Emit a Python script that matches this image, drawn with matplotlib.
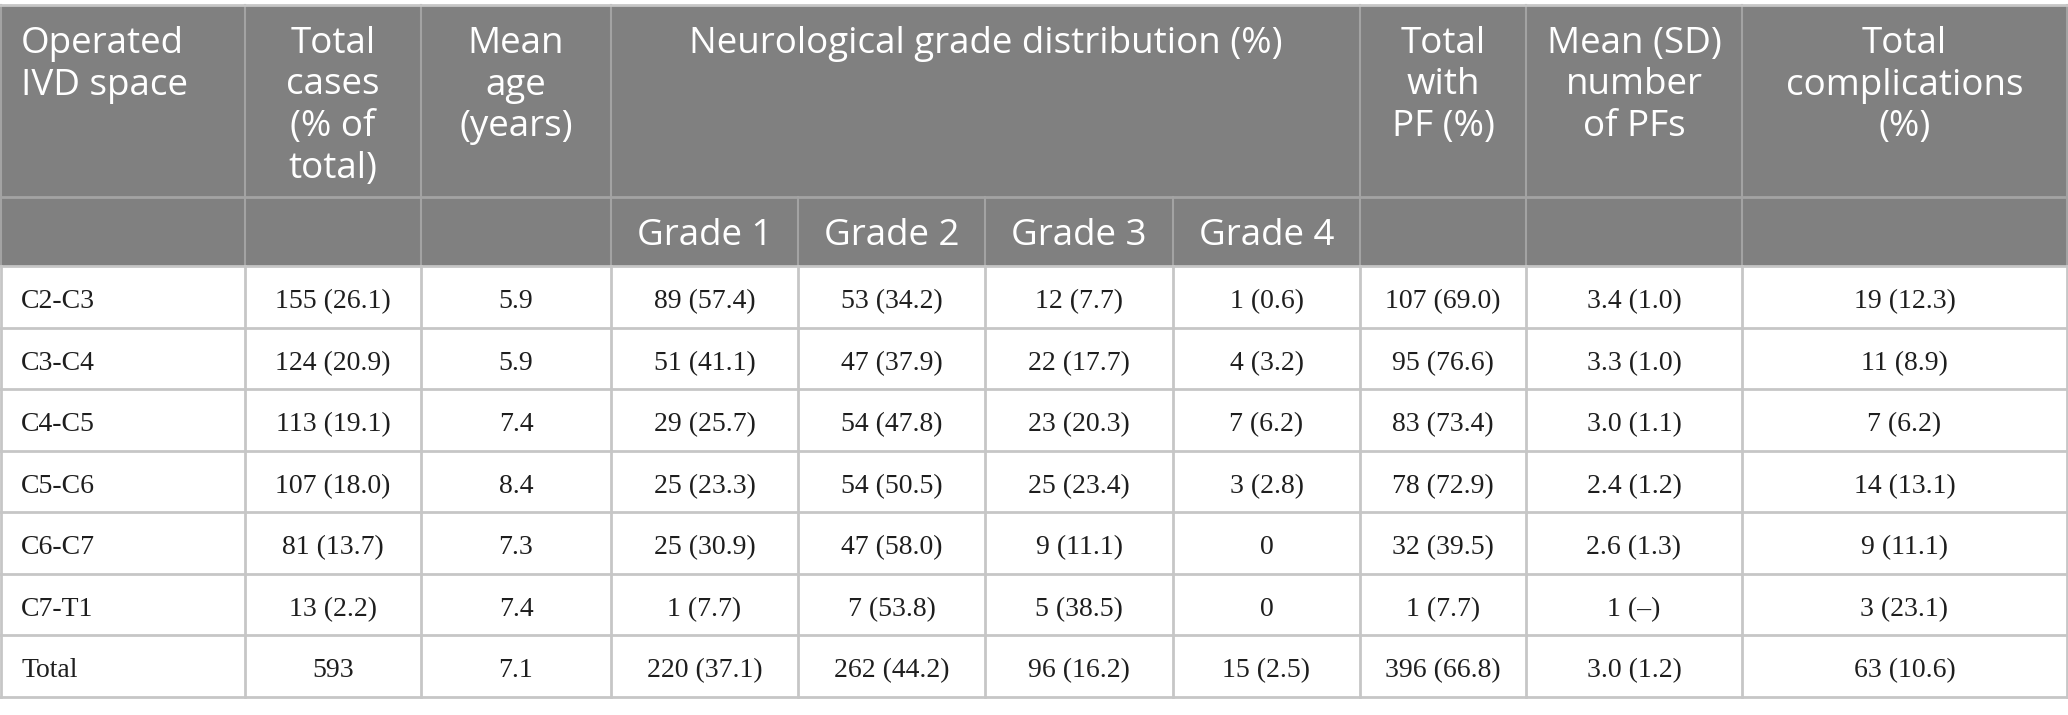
import matplotlib
matplotlib.use('Agg')
import matplotlib.pyplot as plt
from matplotlib.patches import Rectangle

# ---- table data ----
header_labels = ['Operated\nIVD space', 'Total\ncases\n(% of\ntotal)', 'Mean\nage\n(years)',
                 'Neurological grade distribution (%)',
                 'Total\nwith\nPF (%)', 'Mean (SD)\nnumber\nof PFs', 'Total\ncomplications\n(%)']
grade_labels = ['Grade 1', 'Grade 2', 'Grade 3', 'Grade 4']

ivd_space = ['C2-C3', 'C3-C4', 'C4-C5', 'C5-C6', 'C6-C7', 'C7-T1', 'Total']
total_cases = ['155 (26.1)', '124 (20.9)', '113 (19.1)', '107 (18.0)', '81 (13.7)', '13 (2.2)', '593']
mean_age = ['5.9', '5.9', '7.4', '8.4', '7.3', '7.4', '7.1']
grade1 = ['89 (57.4)', '51 (41.1)', '29 (25.7)', '25 (23.3)', '25 (30.9)', '1 (7.7)', '220 (37.1)']
grade2 = ['53 (34.2)', '47 (37.9)', '54 (47.8)', '54 (50.5)', '47 (58.0)', '7 (53.8)', '262 (44.2)']
grade3 = ['12 (7.7)', '22 (17.7)', '23 (20.3)', '25 (23.4)', '9 (11.1)', '5 (38.5)', '96 (16.2)']
grade4 = ['1 (0.6)', '4 (3.2)', '7 (6.2)', '3 (2.8)', '0', '0', '15 (2.5)']
total_pf = ['107 (69.0)', '95 (76.6)', '83 (73.4)', '78 (72.9)', '32 (39.5)', '1 (7.7)', '396 (66.8)']
mean_pf = ['3.4 (1.0)', '3.3 (1.0)', '3.0 (1.1)', '2.4 (1.2)', '2.6 (1.3)', '1 (\u2013)', '3.0 (1.2)']
complications = ['19 (12.3)', '11 (8.9)', '7 (6.2)', '14 (13.1)', '9 (11.1)', '3 (23.1)', '63 (10.6)']

columns = [ivd_space, total_cases, mean_age, grade1, grade2, grade3, grade4,
           total_pf, mean_pf, complications]

# ---- layout (pixels) ----
W, H = 2068, 715
col_edges = [1, 245, 421, 611, 798, 985, 1173, 1360, 1526, 1742, 2067]
top = 5
head1_bot = 197
head2_bot = 266
row_h = 61.5

header_bg = '#808080'
header_line = '#a3a3a3'
body_line = '#c6c6c6'
sans = ['Open Sans', 'DejaVu Sans']
serif = ['Liberation Serif', 'DejaVu Serif']

fig = plt.figure(figsize=(W / 100, H / 100), dpi=100)
ax = fig.add_axes([0, 0, 1, 1])
ax.set_xlim(0, W)
ax.set_ylim(H, 0)
ax.axis('off')

# header background
ax.add_patch(Rectangle((col_edges[0], top), col_edges[-1] - col_edges[0], head2_bot - top,
                       facecolor=header_bg, edgecolor='none', zorder=0))

n_rows = len(ivd_space)
row_tops = [head2_bot + i * row_h for i in range(n_rows + 1)]

# horizontal lines
ax.plot([0, W], [top, top], color=body_line, lw=2, zorder=2)
ax.plot([col_edges[0], col_edges[-1]], [head1_bot, head1_bot], color=header_line, lw=2, zorder=2)
ax.plot([col_edges[0], col_edges[-1]], [head2_bot, head2_bot], color=body_line, lw=2, zorder=2)
for y in row_tops[1:]:
    ax.plot([0, W], [y, y], color=body_line, lw=2, zorder=2)

# vertical lines
bottom = row_tops[-1]
for i, x in enumerate(col_edges):
    if i in (4, 5, 6):
        ax.plot([x, x], [head1_bot, head2_bot], color=header_line, lw=1.5, zorder=1)
    else:
        ax.plot([x, x], [top, head2_bot], color=header_line, lw=1.5, zorder=1)
    ax.plot([x, x], [head2_bot, bottom], color=body_line, lw=2, zorder=1)

# header row 1 text (one baseline per line)
line_step = 41.5
first_base = 53
head_cols = [(0, 1), (1, 2), (2, 3), (3, 7), (7, 8), (8, 9), (9, 10)]
for label, (a, b) in zip(header_labels, head_cols):
    if a == 0:
        x, ha = col_edges[0] + 20, 'left'
    else:
        x, ha = (col_edges[a] + col_edges[b]) / 2, 'center'
    for k, line in enumerate(label.split('\n')):
        ax.text(x, first_base + k * line_step, line, ha=ha, va='baseline',
                color='white', fontsize=26.5, family=sans)

# header row 2 text
for j, g in enumerate(grade_labels):
    x = (col_edges[3 + j] + col_edges[4 + j]) / 2
    ax.text(x, 245, g, ha='center', va='baseline',
            color='white', fontsize=26.5, family=sans)

# body text
for c, values in enumerate(columns):
    for r, val in enumerate(values):
        y = row_tops[r] + 0.69 * row_h
        if c == 0:
            ax.text(col_edges[0] + 20, y, val, ha='left', va='baseline',
                    color='#1e1e1e', fontsize=20, family=serif)
        else:
            ax.text((col_edges[c] + col_edges[c + 1]) / 2, y, val, ha='center', va='baseline',
                    color='#1e1e1e', fontsize=20, family=serif)

plt.savefig('out.png', dpi=100)
